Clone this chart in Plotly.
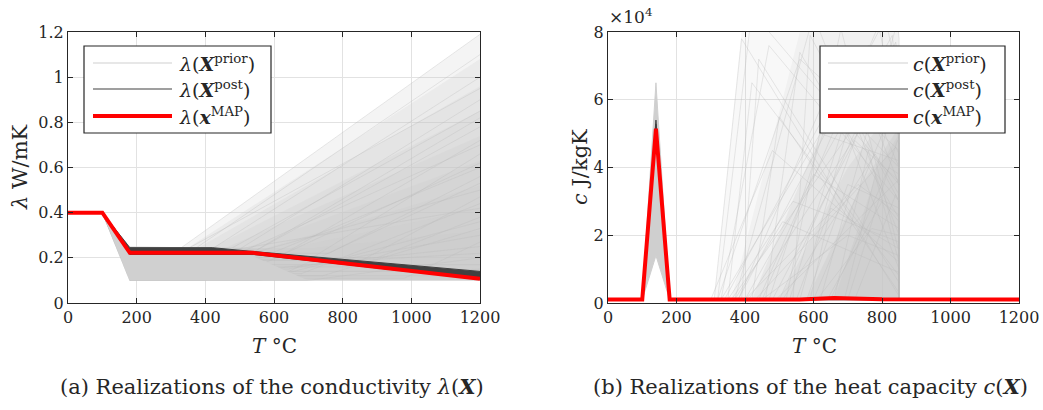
import plotly.graph_objects as go

# ---------------- data ----------------
T_MIN, T_MAX = 0, 1200

# conductivity lambda(T)
LAM_MAP_T = [0, 100, 180, 540, 1200]
LAM_MAP_V = [0.4, 0.4, 0.222, 0.222, 0.107]

LAM_POST_UP_T = [100, 180, 420, 540, 1200]
LAM_POST_UP_V = [0.4, 0.245, 0.245, 0.228, 0.14]
LAM_POST_LO_T = [1200, 540, 180, 100]
LAM_POST_LO_V = [0.105, 0.215, 0.215, 0.4]

# prior core (dense region) polygon
LAM_CORE_T = [100, 180, 700, 480, 180, 100]
LAM_CORE_V = [0.4, 0.1, 0.1, 0.245, 0.25, 0.4]
# prior fan layers: knot T where the fan starts, value reached at 1200
LAM_FAN_BASE_T = [330, 350, 380, 420, 460, 520, 580, 650, 720]
LAM_FAN_TOP = [1.19, 1.08, 0.96, 0.85, 0.74, 0.63, 0.52, 0.42, 0.32]
LAM_FAN_BASE_V = 0.245
LAM_FLOOR = 0.1
# individual prior sample lines: value at 180, knot T, value at 1200
LAM_S_MID = [0.245, 0.23, 0.24, 0.2, 0.22, 0.17, 0.235, 0.15, 0.21, 0.12,
             0.19, 0.14, 0.1, 0.22, 0.11, 0.18, 0.16, 0.13, 0.24, 0.2,
             0.1, 0.12, 0.15, 0.11, 0.13, 0.19, 0.1, 0.17, 0.14, 0.12]
LAM_S_KNOT = [330, 360, 420, 300, 480, 390, 550, 450, 620, 350,
              700, 520, 400, 760, 600, 440, 820, 680, 500, 900,
              560, 740, 640, 980, 460, 860, 700, 580, 1050, 800]
LAM_S_END = [1.19, 1.1, 1.0, 0.95, 0.9, 0.85, 0.82, 0.78, 0.72, 0.7,
             0.66, 0.62, 0.6, 0.56, 0.53, 0.5, 0.47, 0.44, 0.42, 0.38,
             0.36, 0.33, 0.3, 0.27, 0.25, 0.22, 0.2, 0.17, 0.15, 0.12]

# heat capacity c(T)
C_BASE = 1000
C_MAP_T = [0, 100, 140, 180, 560, 660, 800, 1200]
C_MAP_V = [1000, 1000, 51500, 1000, 1000, 1500, 1100, 1000]
C_POST_PEAKS = [54000, 52800, 51000]
C_PEAK_T = [100, 140, 180]
C_PRIOR_PEAK_HI = 65000
C_PRIOR_PEAK_LO = 14000
C_END_T = 850
# prior triangles: start T, peak T, peak value, value at 850
C_S_START = [310, 330, 350, 320, 370, 400, 340, 420, 380, 450, 300, 500, 360, 460, 520,
             330, 410, 550, 480, 390, 600, 440, 560, 350, 620, 470, 510, 580, 430, 650,
             530, 370, 690, 590, 400, 640, 320, 490, 700, 610, 540, 450, 660, 380, 720]
C_S_PEAK_T = [390, 470, 420, 560, 600, 830, 700, 500, 640, 790, 480, 840, 760, 560, 680,
              620, 820, 800, 720, 440, 810, 600, 740, 540, 845, 660, 780, 700, 840, 820,
              760, 510, 830, 650, 730, 800, 420, 845, 845, 770, 590, 700, 760, 810, 840]
C_S_PEAK_V = [78000, 76000, 65000, 72000, 85000, 79000, 68000, 55000, 62000, 82000, 45000, 77000, 58000, 74000, 81000,
              50000, 64000, 70000, 48000, 72000, 52000, 38000, 66000, 30000, 83000, 60000, 44000, 35000, 46000, 40000,
              76000, 24000, 58000, 28000, 35000, 30000, 86000, 36000, 48000, 22000, 79000, 20000, 45000, 84000, 32000]
C_S_END_V = [2000, 30000, 8000, 45000, 20000, 60000, 50000, 3000, 40000, 52000, 12000, 70000, 35000, 25000, 15000,
             42000, 55000, 48000, 36000, 6000, 50000, 22000, 40000, 18000, 78000, 10000, 32000, 28000, 44000, 38000,
             58000, 9000, 54000, 16000, 26000, 24000, 35000, 35000, 47000, 20000, 30000, 14000, 12000, 65000, 30000]
# density layers for c prior (polygons) and their opacities
C_LAYER_T = [[310, 850, 850, 390],
             [360, 850, 850, 560],
             [420, 850, 850, 620],
             [500, 850, 850, 700],
             [580, 850, 850, 740],
             [660, 850, 850, 790]]
C_LAYER_V = [[1000, 1000, 80000, 80000],
             [1000, 1000, 80000, 80000],
             [1000, 1000, 70000, 50000],
             [1000, 1000, 60000, 40000],
             [1000, 1000, 52000, 35000],
             [1000, 1000, 50000, 40000]]
C_LAYER_A = [0.12, 0.12, 0.25, 0.28, 0.32, 0.4]

LAM_TICKS = [0, 0.2, 0.4, 0.6, 0.8, 1.0, 1.2]
LAM_TICKTEXT = ["0", "0.2", "0.4", "0.6", "0.8", "1", "1.2"]
C_TICKS = [0, 20000, 40000, 60000, 80000]
C_TICKTEXT = ["0", "2", "4", "6", "8"]
T_TICKS = [0, 200, 400, 600, 800, 1000, 1200]

POST_COL = "#404040"
MAP_COL = "#ff0000"
LAYER_FILL = "rgba(200,200,200,0.2)"
LINE_COL = "rgba(185,185,185,0.4)"
FONT = "DejaVu Serif"
INK = "#262626"

fig = go.Figure()

def add(tr, ax):
    if ax == 1:
        tr.update(xaxis="x", yaxis="y")
    else:
        tr.update(xaxis="x2", yaxis="y2")
    tr.update(showlegend=False, hoverinfo="skip")
    fig.add_trace(tr)

# ---- left panel ----
for bt, top in zip(LAM_FAN_BASE_T, LAM_FAN_TOP):
    add(go.Scatter(x=[180, 180, bt, T_MAX, T_MAX], y=[LAM_FLOOR, LAM_FAN_BASE_V, LAM_FAN_BASE_V, top, LAM_FLOOR],
                   mode="lines", fill="toself", fillcolor=LAYER_FILL, line=dict(width=0)), 1)
for m, k, e in zip(LAM_S_MID, LAM_S_KNOT, LAM_S_END):
    add(go.Scatter(x=[0, 100, 180, k, T_MAX], y=[0.4, 0.4, m, m, e], mode="lines",
                   line=dict(color=LINE_COL, width=0.8)), 1)
add(go.Scatter(x=LAM_CORE_T, y=LAM_CORE_V, mode="lines", fill="toself",
               fillcolor="#d0d0d0", line=dict(width=0)), 1)
add(go.Scatter(x=LAM_POST_UP_T + LAM_POST_LO_T, y=LAM_POST_UP_V + LAM_POST_LO_V, mode="lines",
               fill="toself", fillcolor=POST_COL, line=dict(color=POST_COL, width=1)), 1)
add(go.Scatter(x=LAM_MAP_T, y=LAM_MAP_V, mode="lines", line=dict(color=MAP_COL, width=4)), 1)

# ---- right panel ----
for lt, lv, a in zip(C_LAYER_T, C_LAYER_V, C_LAYER_A):
    add(go.Scatter(x=lt, y=lv, mode="lines", fill="toself", fillcolor=f"rgba(200,200,200,{a})",
                   line=dict(width=0)), 2)
for s, pt, pv, ev in zip(C_S_START, C_S_PEAK_T, C_S_PEAK_V, C_S_END_V):
    add(go.Scatter(x=[s, pt, C_END_T, C_END_T], y=[C_BASE, pv, ev, C_BASE], mode="lines",
                   line=dict(color=LINE_COL, width=0.8)), 2)
add(go.Scatter(x=[C_PEAK_T[0], C_PEAK_T[1], C_PEAK_T[2], C_PEAK_T[1], C_PEAK_T[0]],
               y=[C_BASE, C_PRIOR_PEAK_HI, C_BASE, C_PRIOR_PEAK_LO, C_BASE], mode="lines",
               fill="toself", fillcolor="#cfcfcf", line=dict(color="#cfcfcf", width=1)), 2)
for pk in C_POST_PEAKS:
    add(go.Scatter(x=[T_MIN] + C_PEAK_T + [T_MAX], y=[C_BASE, C_BASE, pk, C_BASE, C_BASE], mode="lines",
                   line=dict(color=POST_COL, width=1)), 2)
add(go.Scatter(x=C_MAP_T, y=C_MAP_V, mode="lines", line=dict(color=MAP_COL, width=4)), 2)

# ---- axes ----
W, H = 1043, 410
def px_x(p):
    return p / W
def px_y(p):
    return 1 - p / H

ax_common = dict(showline=True, linecolor=INK, linewidth=1.2, mirror="ticks",
                 ticks="inside", ticklen=5, tickcolor=INK, showgrid=True,
                 gridcolor="#e2e2e2", gridwidth=1, zeroline=False, automargin=False,
                 tickfont=dict(family=FONT, size=16, color=INK))
fig.update_layout(
    xaxis=dict(domain=[px_x(68), px_x(480)], range=[T_MIN, T_MAX], tickvals=T_TICKS, anchor="y", **ax_common),
    yaxis=dict(domain=[px_y(303), px_y(32)], range=[0, 1.2], tickvals=LAM_TICKS, ticktext=LAM_TICKTEXT,
               anchor="x", **ax_common),
    xaxis2=dict(domain=[px_x(608), px_x(1019)], range=[T_MIN, T_MAX], tickvals=T_TICKS, anchor="y2", **ax_common),
    yaxis2=dict(domain=[px_y(303), px_y(32)], range=[0, 80000], tickvals=C_TICKS, ticktext=C_TICKTEXT,
                anchor="x2", **ax_common),
    width=W, height=H, margin=dict(l=0, r=0, t=0, b=0, autoexpand=False),
    paper_bgcolor="white", plot_bgcolor="white", showlegend=False,
)

ann = []
shapes = []
def text(x, y, s, size=16, angle=0, xanchor="center", yanchor="middle"):
    ann.append(dict(x=px_x(x), y=px_y(y), xref="paper", yref="paper", text=s, showarrow=False,
                    font=dict(family=FONT, size=size, color=INK), textangle=angle,
                    xanchor=xanchor, yanchor=yanchor, borderpad=0))

text(274, 346, "<i>T</i> °C", size=20)
text(814, 346, "<i>T</i> °C", size=20)
text(20, 167, "<i>λ</i> W/mK", size=21, angle=-90)
text(580, 167, "<i>c</i> J/kgK", size=21, angle=-90)
text(608, 16, "×10<sup>4</sup>", size=17, xanchor="left")
text(272, 386, "(a) Realizations of the conductivity <i>λ</i>(<b><i>X</i></b>)", size=21)
text(810, 386, "(b) Realizations of the heat capacity <i>c</i>(<b><i>X</i></b>)", size=21)

def legend(x0, x1, y0, y1, lx0, lx1, tx, sym):
    shapes.append(dict(type="rect", xref="paper", yref="paper", x0=px_x(x0), x1=px_x(x1),
                       y0=px_y(y1), y1=px_y(y0), line=dict(color=INK, width=1.2), fillcolor="white"))
    rows = [63, 89, 116]
    cols = ["#d0d0d0", POST_COL, MAP_COL]
    widths = [1.2, 1.2, 4]
    labels = [f"{sym}(<b><i>X</i></b><sup>prior</sup>)", f"{sym}(<b><i>X</i></b><sup>post</sup>)",
              f"{sym}(<b><i>x</i></b><sup>MAP</sup>)"]
    for r, c, w, lab in zip(rows, cols, widths, labels):
        shapes.append(dict(type="line", xref="paper", yref="paper", x0=px_x(lx0), x1=px_x(lx1),
                           y0=px_y(r), y1=px_y(r), line=dict(color=c, width=w)))
        text(tx, r, lab, size=19, xanchor="left")

legend(84, 271, 46, 133, 93, 172, 178, "<i>λ</i>")
legend(820, 1005, 46, 133, 828, 908, 912, "<i>c</i>")

fig.update_layout(annotations=ann, shapes=shapes)
fig.write_html("out.html", config={"displayModeBar": False},
               post_script="document.body.style.margin='0px';")
